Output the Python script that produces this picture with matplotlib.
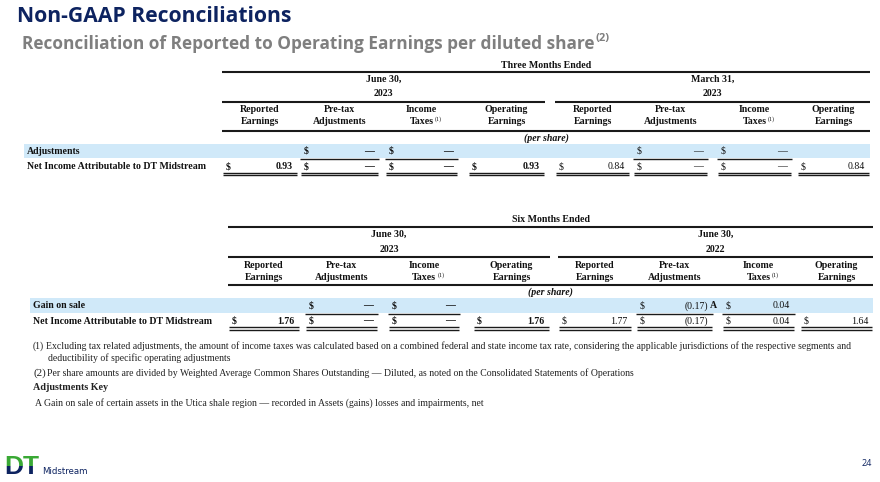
import matplotlib
matplotlib.use("Agg")
import matplotlib.pyplot as plt
from matplotlib.patches import Rectangle

# ---- data ----
title = "Non-GAAP Reconciliations"
subtitle = "Reconciliation of Reported to Operating Earnings per diluted share"
col_headers = [("Reported", "Earnings"), ("Pre-tax", "Adjustments"),
               ("Income", "Taxes"), ("Operating", "Earnings")]

q_title = "Three Months Ended"
q_periods = [("June 30,", "2023"), ("March 31,", "2023")]
q_row_labels = ["Adjustments", "Net Income Attributable to DT Midstream"]
q_adjust = [[None, 0.0, 0.0, None], [None, 0.0, 0.0, None]]
q_net = [[0.93, 0.0, 0.0, 0.93], [0.84, 0.0, 0.0, 0.84]]
q_marks = [[None, None, None, None], [None, None, None, None]]

h_title = "Six Months Ended"
h_periods = [("June 30,", "2023"), ("June 30,", "2022")]
h_row_labels = ["Gain on sale", "Net Income Attributable to DT Midstream"]
h_adjust = [[None, 0.0, 0.0, None], [None, -0.17, 0.04, None]]
h_net = [[1.76, 0.0, 0.0, 1.76], [1.77, -0.17, 0.04, 1.64]]
h_marks = [[None, None, None, None], [None, "A", None, None]]

footnotes = [
    ("(1)", "Excluding tax related adjustments, the amount of income taxes was calculated based on a combined "
            "federal and state income tax rate, considering the applicable jurisdictions of the respective segments and",
     "deductibility of specific operating adjustments"),
    ("(2)", "Per share amounts are divided by Weighted Average Common Shares Outstanding \u2014 Diluted, "
            "as noted on the Consolidated Statements of Operations", None),
]
key_title = "Adjustments Key"
key_lines = [("A", "Gain on sale of certain assets in the Utica shale region \u2014 recorded in Assets (gains) losses and impairments, net")]
page_no = "24"

# ---- style ----
NAVY = "#0d2360"
GRAY = "#7f7f7f"
BLUE = "#d0e9f9"
GREEN = "#3aa935"
TXT = "#111111"
SERIF = "Liberation Serif"
FS = 7.1

fig = plt.figure(figsize=(8.8, 4.82), dpi=100)
ax = fig.add_axes([0, 0, 1, 1])
ax.set_xlim(0, 880)
ax.set_ylim(482, 0)
ax.axis("off")
renderer = fig.canvas.get_renderer()


def fmt(v):
    if v is None:
        return None
    if v == 0:
        return "\u2014"
    if v < 0:
        return "(%.2f)" % -v
    return "%.2f" % v


def txt(x, y, s, **kw):
    kw.setdefault("family", SERIF)
    kw.setdefault("fontsize", FS)
    kw.setdefault("color", TXT)
    kw.setdefault("va", "center")
    return ax.text(x, y, s, **kw)


def right_edge(t):
    bb = t.get_window_extent(renderer)
    return ax.transData.inverted().transform((bb.x1, bb.y1))[0]


def hline(x0, x1, y, lw=1.1):
    ax.plot([x0, x1], [y, y], color="#1a1a1a", lw=lw, solid_capstyle="butt")


def draw_table(ttl, periods, labels, adjust, net, marks, cells, ys, band_x0, label_x):
    (y_ttl, y_top, y_p1, y_p2, y_pl, y_h1, y_h2, y_hl, y_ps,
     y_b0, y_b1, y_r2, y_d) = ys
    x0, x1 = cells[0][0], cells[-1][1]
    txt((x0 + x1) / 2, y_ttl, ttl, ha="center", fontweight="bold")
    hline(x0, x1, y_top, lw=1.5)
    for g, (p1, p2) in enumerate(periods):
        gc = cells[g * 4:(g + 1) * 4]
        cx = (gc[0][0] + gc[-1][1]) / 2
        txt(cx, y_p1, p1, ha="center", fontweight="bold")
        txt(cx, y_p2, p2, ha="center", fontweight="bold")
        hline(gc[0][0], gc[-1][1], y_pl, lw=1.5)
        for j, (h1, h2) in enumerate(col_headers):
            cx = (gc[j][0] + gc[j][1]) / 2
            txt(cx, y_h1, h1, ha="center", fontweight="bold")
            t = txt(cx, y_h2, h2, ha="center", fontweight="bold")
            if h1 == "Income":
                txt(right_edge(t) + 1.5, y_h2 - 3, "(1)", fontsize=4.3, ha="left")
    hline(x0, x1, y_hl, lw=1.5)
    txt((x0 + x1) / 2, y_ps, "(per share)", ha="center", fontweight="bold", style="italic")

    # blue band and row labels
    ax.add_patch(Rectangle((band_x0, y_b0), x1 - band_x0, y_b1 - y_b0, color=BLUE, lw=0, zorder=0))
    y_r1 = (y_b0 + y_b1) / 2 + 0.5
    txt(label_x, y_r1, labels[0], ha="left", fontweight="bold")
    txt(label_x, y_r2, labels[1], ha="left", fontweight="bold")

    for g in range(len(periods)):
        w = "bold" if g == 0 else "normal"
        for j in range(4):
            c0, c1 = cells[g * 4 + j]
            a = fmt(adjust[g][j])
            if a is not None:
                txt(c0 + 4, y_r1, "$", ha="left", fontweight=w)
                txt(c1 - 5, y_r1, a, ha="right", fontweight=w)
                if marks[g][j]:
                    txt(c1 - 3.5, y_r1, marks[g][j], ha="left", fontweight="bold")
                hline(c0, c1, y_b1 + 0.5, lw=1.0)
            n = fmt(net[g][j])
            txt(c0 + 4, y_r2, "$", ha="left", fontweight=w)
            txt(c1 - 5, y_r2, n, ha="right", fontweight=w)
            hline(c0 + 1, c1 - 1, y_d, lw=1.0)
            hline(c0 + 1, c1 - 1, y_d + 2.6, lw=1.0)


# ---- titles ----
ax.text(17, 16, title, family="Open Sans", fontweight="bold", fontsize=15.2,
        color=NAVY, va="center", ha="left")
st = ax.text(22, 44, subtitle, family="Open Sans", fontweight="bold", fontsize=12.4,
             color=GRAY, va="center", ha="left")
ax.text(right_edge(st) + 1, 39, "(2)", family="Open Sans", fontweight="bold",
        fontsize=8, color=GRAY, va="center", ha="left")

# ---- tables ----
q_cells = [(222, 298), (300, 379), (385, 458), (468, 545),
           (555, 630), (633, 708), (717, 792), (797, 870)]
h_cells = [(228, 300), (305, 378), (388, 460), (473, 550),
           (558, 632), (636, 713), (722, 795), (800, 873)]

draw_table(q_title, q_periods, q_row_labels, q_adjust, q_net, q_marks, q_cells,
           (65, 71.5, 79, 94, 101.5, 110, 122, 130.5, 138, 143.5, 158, 166.5, 172.5),
           24, 27)
draw_table(h_title, h_periods, h_row_labels, h_adjust, h_net, h_marks, h_cells,
           (219, 226.5, 234, 250, 257, 266, 278, 285, 292, 298, 313, 321, 327),
           30, 33)

# ---- footnotes ----
FN = 7.0
y = 346
for mark, line1, line2 in footnotes:
    big = mark == "(2)"
    txt(33, y, mark, ha="left", fontsize=FN + (1.0 if big else 0), color="#222222")
    txt(47 if big else 46, y, line1, ha="left", fontsize=FN, color="#222222")
    if line2:
        y += 12
        txt(48, y, line2, ha="left", fontsize=FN, color="#222222")
    y += 15
txt(33, 388, key_title, ha="left", fontsize=FN + 0.3, fontweight="bold", color="#222222")
for k, line in key_lines:
    txt(35, 403, k, ha="left", fontsize=FN, color="#222222")
    txt(44, 403, line, ha="left", fontsize=FN, color="#222222")

# ---- logo and page number ----
top_clip = Rectangle((0, 440), 60, 26, transform=ax.transData)
bot_clip = Rectangle((0, 466), 60, 20, transform=ax.transData)
for color, clip in ((GREEN, top_clip), (NAVY, bot_clip)):
    t = ax.text(4, 467, "DT", family="Liberation Sans", fontweight="bold", fontsize=19,
                color=color, va="center", ha="left")
    t.set_clip_on(True)
    t.set_clip_path(clip)
ax.text(42, 471, "Midstream", family="Liberation Sans Narrow", fontsize=6.2,
        color=NAVY, va="center", ha="left")
ax.text(862, 464, page_no, family="Open Sans", fontsize=6.5, color=NAVY,
        va="center", ha="left")

fig.savefig("out.png", dpi=100, facecolor="white")
